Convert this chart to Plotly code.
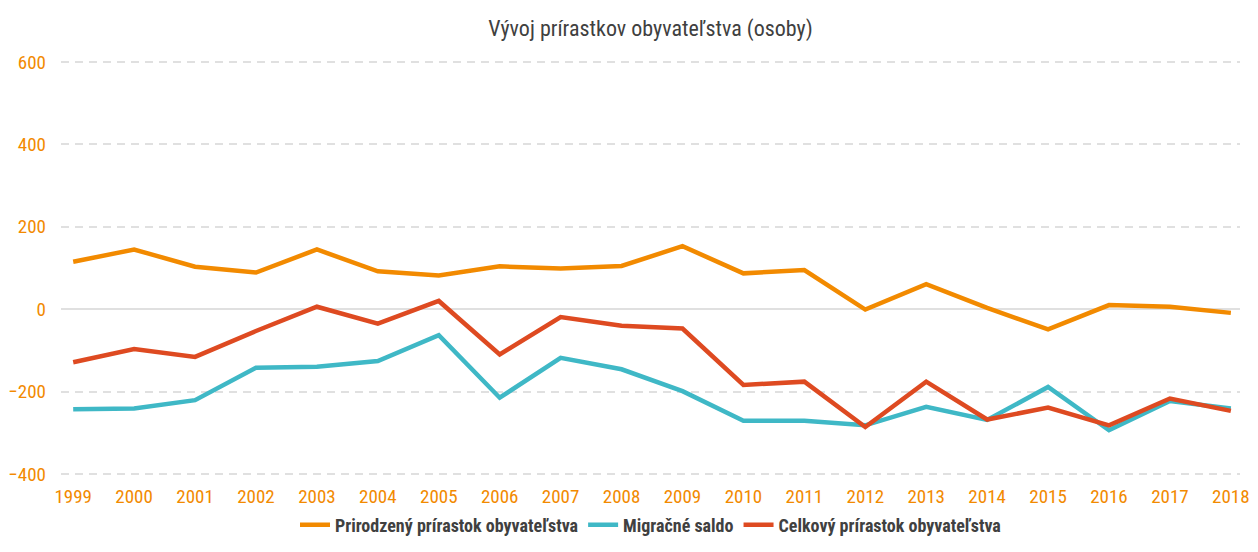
import plotly.graph_objects as go

years = [1999, 2000, 2001, 2002, 2003, 2004, 2005, 2006, 2007, 2008,
         2009, 2010, 2011, 2012, 2013, 2014, 2015, 2016, 2017, 2018]
prirodzeny = [115, 145, 103, 89, 145, 92, 82, 104, 99, 105,
              153, 87, 95, -1, 61, 3, -49, 10, 6, -9]
migracne = [-243, -241, -221, -142, -140, -126, -63, -215, -118, -146,
            -199, -271, -271, -282, -237, -269, -189, -294, -223, -241]
celkovy = [-129, -97, -116, -53, 6, -35, 20, -110, -19, -40,
           -47, -184, -176, -286, -176, -268, -239, -282, -217, -247]

series_names = ["Prirodzený prírastok obyvateľstva", "Migračné saldo", "Celkový prírastok obyvateľstva"]
colors = ["#F28A00", "#3FB8C6", "#DE4A21"]
title_text = "Vývoj prírastkov obyvateľstva (osoby)"
y_ticks = [-400, -200, 0, 200, 400, 600]

FONT = "Liberation Sans Narrow, Arial Narrow, Roboto Condensed, Liberation Sans, sans-serif"

fig = go.Figure()
for name, vals, col in zip(series_names, [prirodzeny, migracne, celkovy], colors):
    fig.add_trace(go.Scatter(x=years, y=vals, name=name, mode="lines",
                             line=dict(color=col, width=4.5)))

fig.update_layout(
    width=1258, height=552,
    paper_bgcolor="white", plot_bgcolor="white",
    margin=dict(l=55, r=8, t=58, b=74),
    title=dict(text=title_text, x=0.5, xref="paper", xanchor="center",
               yref="container", y=1 - 28 / 552, yanchor="middle",
               font=dict(family=FONT, size=22, color="#404040")),
    font=dict(family=FONT),
    showlegend=True,
    legend=dict(orientation="h", x=0.5, xanchor="center", y=-0.112, yanchor="middle",
                bgcolor="rgba(0,0,0,0)",
                font=dict(family=FONT, size=18, color="#404040", weight="bold"),
                itemwidth=30, tracegroupgap=0),
)
fig.update_xaxes(range=[1998.8, 2018.15], tickmode="array", tickvals=years,
                 ticktext=[str(y) for y in years], showgrid=False, zeroline=False,
                 showline=False, ticks="", ticklen=0, ticklabelstandoff=5,
                 ticklabeloverflow="allow",
                 tickfont=dict(family=FONT, size=19, color="#F28A00"))
fig.update_yaxes(range=[-410, 610], tickvals=y_ticks,
                 showgrid=True, gridcolor="#E0E0E0", griddash="8px,6px", gridwidth=1.5,
                 zeroline=True, zerolinecolor="#E0E0E0", zerolinewidth=1.5,
                 showline=False, ticks="", ticklen=0, ticklabelstandoff=14,
                 tickfont=dict(family=FONT, size=19, color="#F28A00"))

fig.write_html("out.html", config={"displayModeBar": False},
               post_script="document.body.style.margin='0';document.body.style.overflow='hidden';")
